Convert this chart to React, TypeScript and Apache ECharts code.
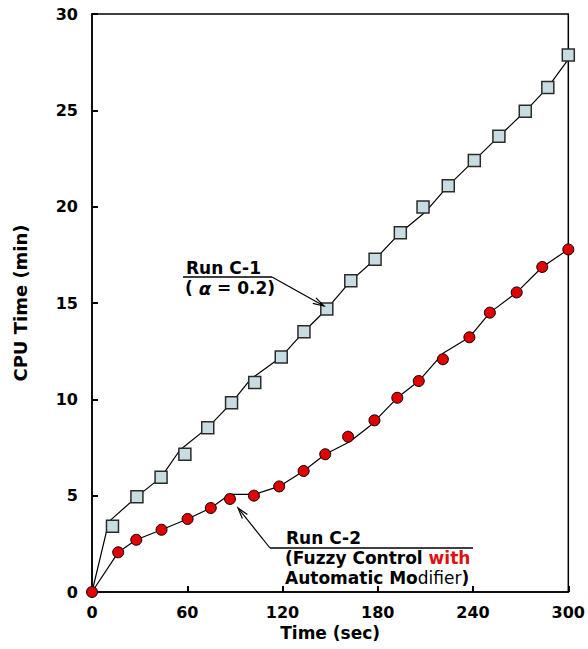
import React, { useEffect, useRef } from "react";
import * as echarts from "echarts";

// ---- Data ----
// Run C-1 (alpha = 0.2): measured points (squares)
const c1Times = [12.9, 28.3, 43.5, 58.5, 72.9, 87.9, 102.5, 119.2, 133.5, 147.9, 163, 178.3, 194.2, 208.5, 224.4, 240.8, 256.3, 272.9, 287.1, 300];
const c1Values = [3.41, 4.95, 5.95, 7.15, 8.53, 9.82, 10.88, 12.2, 13.51, 14.69, 16.15, 17.27, 18.65, 19.98, 21.09, 22.4, 23.65, 24.95, 26.19, 27.87];
// Run C-1 drawn curve (polyline vertices)
const c1LineTimes = [0, 10.6, 28.3, 43.5, 55.4, 72.9, 87.9, 99.8, 119.2, 133.5, 147.9, 163, 178.3, 194.2, 210.2, 224.4, 240.8, 256.3, 272.9, 287.1, 300];
const c1LineValues = [0, 3.65, 4.95, 5.95, 7.37, 8.53, 9.82, 11.04, 12.2, 13.51, 14.69, 16.15, 17.27, 18.65, 19.74, 21.09, 22.4, 23.65, 24.95, 26.19, 27.65];

// Run C-2 (Fuzzy Control with Automatic Modifier): measured points (circles)
const c2Times = [0, 16.5, 27.9, 43.8, 60.2, 74.8, 86.9, 102, 117.9, 133.3, 146.9, 161.3, 177.9, 192.3, 205.8, 221, 237.7, 250.6, 267.5, 283.6, 300];
const c2Values = [0, 2.06, 2.71, 3.23, 3.79, 4.36, 4.83, 5.0, 5.48, 6.28, 7.15, 8.06, 8.91, 10.08, 10.95, 12.08, 13.22, 14.5, 15.55, 16.87, 17.78];
// Run C-2 drawn curve (polyline vertices)
const c2LineTimes = [0, 16.5, 27.9, 43.8, 60.2, 74.8, 86.9, 102.3, 117.9, 133.3, 146.9, 162.3, 175.8, 192.3, 205.8, 221.1, 237.7, 250.6, 267.5, 283.6, 300];
const c2LineValues = [0, 2.06, 2.71, 3.23, 3.79, 4.36, 5.07, 5.07, 5.48, 6.28, 7.15, 7.8, 8.67, 10.08, 10.95, 12.39, 13.22, 14.5, 15.55, 16.87, 17.78];

const xAxisName = "Time (sec)";
const yAxisName = "CPU Time (min)";

const FONT = '"DejaVu Sans", sans-serif';
const ANN = 17;

function zip(a: number[], b: number[]) {
  return a.map((v, i) => [v, b[i]]);
}

function arrowHead(x1: number, y1: number, x2: number, y2: number, len = 11, half = 3.2) {
  const dx = x2 - x1;
  const dy = y2 - y1;
  const L = Math.hypot(dx, dy);
  const ux = dx / L;
  const uy = dy / L;
  const bx = x2 - ux * len;
  const by = y2 - uy * len;
  return [
    [bx - uy * half, by + ux * half],
    [x2, y2],
    [bx + uy * half, by - ux * half],
  ];
}

export default function App() {
  const ref = useRef<HTMLDivElement>(null);

  useEffect(() => {
    if (!ref.current) return;
    const chart = echarts.init(ref.current, undefined, { renderer: "svg" });

    const boldText = { fontFamily: FONT, fontWeight: "bold", fontSize: ANN, fill: "#000" };

    // annotation geometry (pixels)
    const c1Under = { x1: 183, y1: 277, x2: 272, y2: 277 };
    const c1Tip = [324, 306];
    const c2Under = { x1: 270, y1: 548, x2: 473, y2: 548 };
    const c2Tip = [238, 508];

    const option: any = {
      animation: false,
      grid: {
        left: 92,
        top: 14,
        width: 480,
        height: 578,
        show: true,
        borderColor: "#000",
        borderWidth: 1.5,
        backgroundColor: "transparent",
      },
      xAxis: {
        type: "value",
        min: 0,
        max: 300,
        interval: 60,
        name: xAxisName,
        nameLocation: "middle",
        nameGap: 31,
        nameTextStyle: { fontFamily: FONT, fontWeight: "bold", fontSize: 17, color: "#000" },
        axisLine: { show: true, lineStyle: { color: "#000", width: 1.5 } },
        axisTick: { show: true, inside: true, length: 6, lineStyle: { color: "#000", width: 2 } },
        axisLabel: { fontFamily: FONT, fontWeight: "bold", fontSize: 16, color: "#000", margin: 12 },
        splitLine: { show: false },
      },
      yAxis: {
        type: "value",
        min: 0,
        max: 30,
        interval: 5,
        name: yAxisName,
        nameLocation: "middle",
        nameGap: 63,
        nameRotate: 90,
        nameTextStyle: { fontFamily: FONT, fontWeight: "bold", fontSize: 18, color: "#000" },
        axisLine: { show: true, lineStyle: { color: "#000", width: 1.5 } },
        axisTick: { show: true, inside: true, length: 6, lineStyle: { color: "#000", width: 2 } },
        axisLabel: { fontFamily: FONT, fontWeight: "bold", fontSize: 16, color: "#000", margin: 14 },
        splitLine: { show: false },
      },
      series: [
        {
          type: "line",
          data: zip(c1LineTimes, c1LineValues),
          showSymbol: false,
          symbol: "none",
          lineStyle: { color: "#000", width: 1.2 },
          z: 2,
        },
        {
          type: "line",
          data: zip(c2LineTimes, c2LineValues),
          showSymbol: false,
          symbol: "none",
          lineStyle: { color: "#000", width: 1.2 },
          z: 2,
        },
        {
          type: "scatter",
          data: zip(c1Times, c1Values),
          symbol: "rect",
          symbolSize: 12,
          itemStyle: { color: "#c8dde2", borderColor: "#2b2b2b", borderWidth: 1.5, opacity: 1 },
          z: 3,
        },
        {
          type: "scatter",
          data: zip(c2Times, c2Values),
          symbol: "circle",
          symbolSize: 11,
          itemStyle: { color: "#e00000", borderColor: "#000", borderWidth: 1, opacity: 1 },
          z: 4,
        },
      ],
      graphic: [
        // Run C-1 annotation
        { type: "line", shape: c1Under, style: { stroke: "#000", lineWidth: 1.5 }, z: 10 },
        {
          type: "line",
          shape: { x1: c1Under.x2, y1: c1Under.y2, x2: c1Tip[0], y2: c1Tip[1] },
          style: { stroke: "#000", lineWidth: 1.2 },
          z: 10,
        },
        {
          type: "polyline",
          shape: { points: arrowHead(c1Under.x2, c1Under.y2, c1Tip[0], c1Tip[1]) },
          style: { stroke: "#000", lineWidth: 1.2, fill: null },
          z: 10,
        },
        {
          type: "text",
          x: 186,
          y: 268,
          style: { ...boldText, text: "Run C-1", verticalAlign: "middle", align: "left" },
          z: 10,
        },
        {
          type: "text",
          x: 185,
          y: 288,
          style: {
            text: "{b|( }{a|α}{b| = 0.2)}",
            verticalAlign: "middle",
            align: "left",
            rich: {
              b: { fontFamily: FONT, fontWeight: "bold", fontSize: ANN, fill: "#000" },
              a: { fontFamily: FONT, fontWeight: "bold", fontStyle: "italic", fontSize: 18, fill: "#000" },
            },
          },
          z: 10,
        },
        // Run C-2 annotation
        { type: "line", shape: c2Under, style: { stroke: "#000", lineWidth: 1.5 }, z: 10 },
        {
          type: "line",
          shape: { x1: c2Under.x1, y1: c2Under.y1, x2: c2Tip[0], y2: c2Tip[1] },
          style: { stroke: "#000", lineWidth: 1.2 },
          z: 10,
        },
        {
          type: "polyline",
          shape: { points: arrowHead(c2Under.x1, c2Under.y1, c2Tip[0], c2Tip[1]) },
          style: { stroke: "#000", lineWidth: 1.2, fill: null },
          z: 10,
        },
        {
          type: "text",
          x: 286,
          y: 538,
          style: { ...boldText, text: "Run C-2", verticalAlign: "middle", align: "left" },
          z: 10,
        },
        {
          type: "text",
          x: 285,
          y: 558,
          style: {
            text: "{b|(Fuzzy Control }{w|with}",
            verticalAlign: "middle",
            align: "left",
            rich: {
              b: { fontFamily: FONT, fontWeight: "bold", fontSize: ANN, fill: "#000" },
              w: { fontFamily: FONT, fontWeight: "bold", fontSize: ANN, fill: "#dd1111" },
            },
          },
          z: 10,
        },
        {
          type: "text",
          x: 285,
          y: 578,
          style: {
            text: "{b|Automatic Mo}{r|difier}{b|)}",
            verticalAlign: "middle",
            align: "left",
            rich: {
              b: { fontFamily: FONT, fontWeight: "bold", fontSize: ANN, fill: "#000" },
              r: { fontFamily: FONT, fontWeight: "normal", fontSize: ANN, fill: "#000" },
            },
          },
          z: 10,
        },
      ],
    };

    chart.setOption(option);
    return () => chart.dispose();
  }, []);

  return (
    <div
      ref={ref}
      style={{ position: "fixed", left: 0, top: 0, width: 588, height: 649, background: "#fff" }}
    />
  );
}
